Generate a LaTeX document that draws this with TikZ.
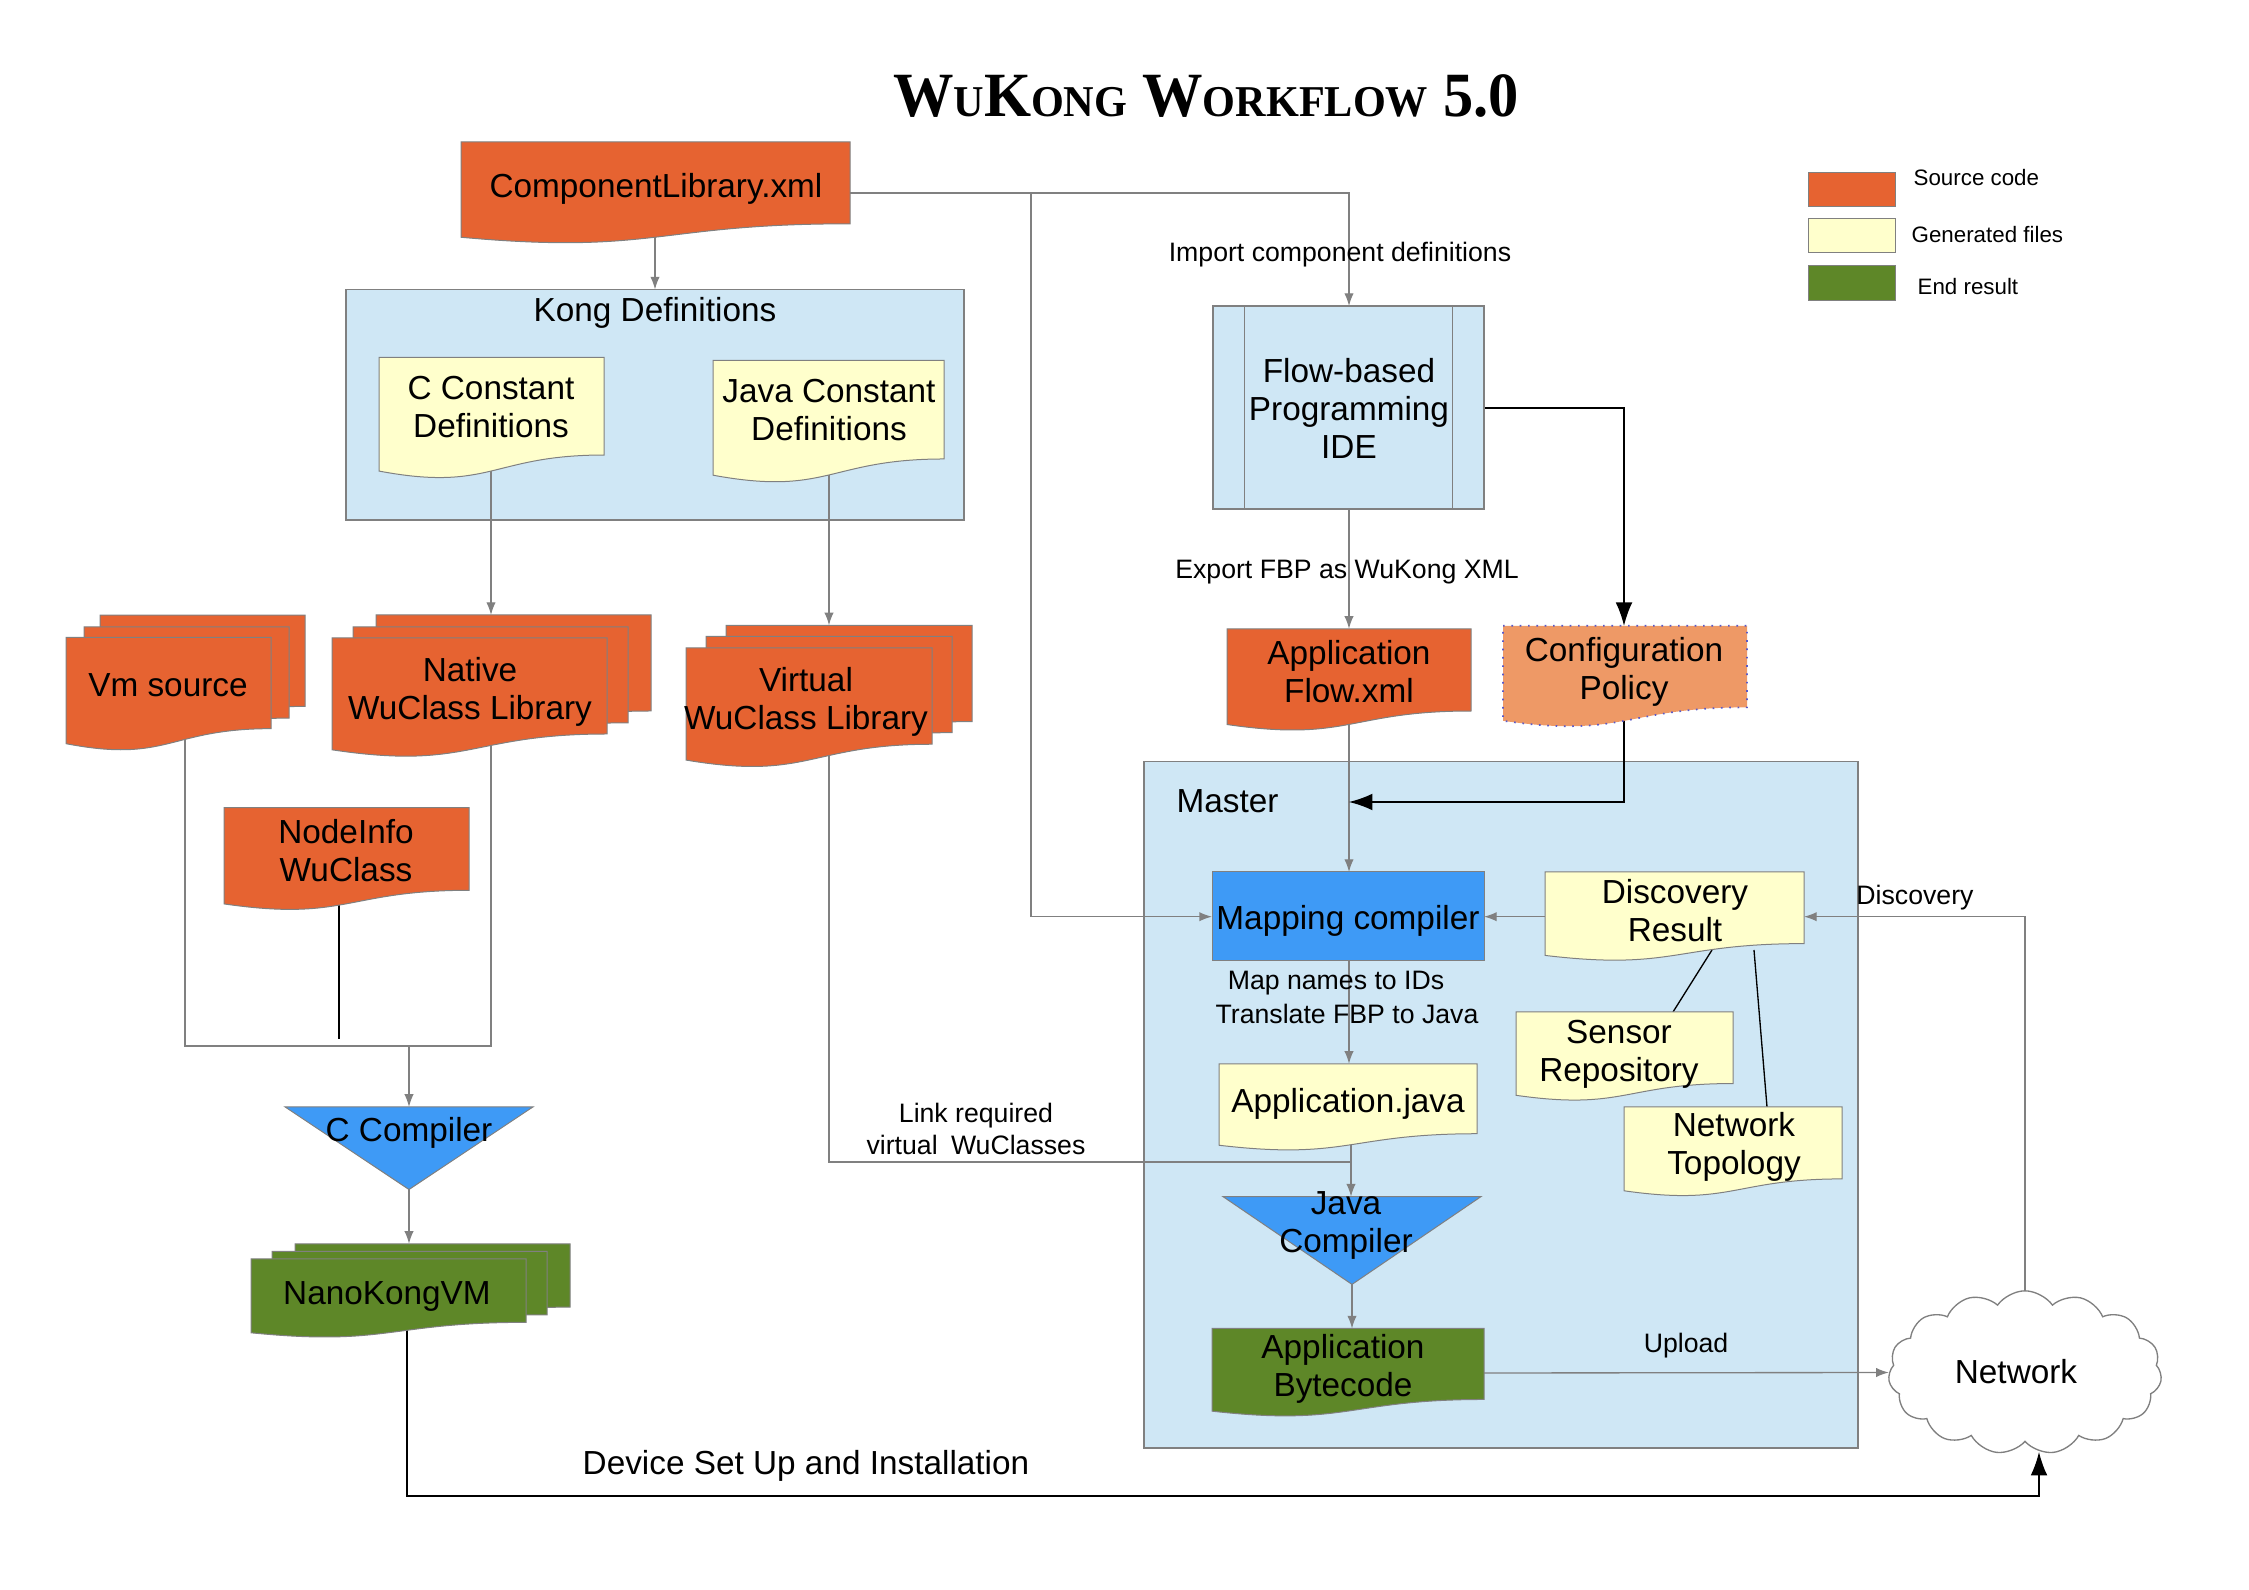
\documentclass[tikz,border=0pt]{standalone}
\usepackage{fontspec}
\setmainfont{Liberation Sans}
\newfontfamily\titlefont{Liberation Serif}
\usetikzlibrary{arrows.meta,shapes.symbols}
\definecolor{srcorange}{RGB}{230,99,49}
\definecolor{cfgorange}{RGB}{238,153,102}
\definecolor{genyellow}{RGB}{255,255,204}
\definecolor{resgreen}{RGB}{94,135,40}
\definecolor{panelblue}{RGB}{207,231,245}
\definecolor{compblue}{RGB}{62,154,246}
\definecolor{linegray}{RGB}{128,128,128}
\definecolor{dotblue}{RGB}{90,90,200}
\tikzset{
  conn/.style={draw=linegray, line width=0.4pt, -{Latex[length=3.8pt,width=2.8pt]}},
  plainline/.style={draw=linegray, line width=0.4pt},
  bconn/.style={draw=black, line width=0.4pt, -{Latex[length=7pt,width=5pt]}},
  bline/.style={draw=black, line width=0.4pt},
  src/.style={fill=srcorange, draw=linegray, line width=0.3pt},
  cfg/.style={fill=cfgorange, draw=dotblue, dotted, line width=0.5pt},
  gen/.style={fill=genyellow, draw=linegray, line width=0.3pt},
  res/.style={fill=resgreen, draw=linegray, line width=0.3pt},
  panel/.style={fill=panelblue, draw=linegray, line width=0.4pt},
  comp/.style={fill=compblue, draw=linegray, line width=0.3pt},
  lbl/.style={font=\fontsize{10}{11.4}\selectfont, align=center, inner sep=0pt},
  slbl/.style={font=\fontsize{8}{9.4}\selectfont, align=center, inner sep=0pt},
  leglbl/.style={font=\fontsize{6.7}{8}\selectfont, anchor=west, inner sep=0pt},
}
% style, x1, y1, x2, h
\newcommand\docshape[5]{%
  \path[#1] (#2,#3) -- (#4,#3) -- (#4,{#3+0.802*#5})
    .. controls ({(#2+#4)/2},{#3+0.802*#5}) and ({(#2+#4)/2},{#3+1.1075*#5}) ..
    (#2,{#3+0.934*#5}) -- cycle;}
% style, x1, y1, x2, h, dx1, dy1, dx2, dy2
\newcommand\docstack[9]{%
  \docshape{#1}{#2+#8}{#3-#9}{#4+#8}{#5}%
  \docshape{#1}{#2+#6}{#3-#7}{#4+#6}{#5}%
  \docshape{#1}{#2}{#3}{#4}{#5}}
\begin{document}
\begin{tikzpicture}[x=0.3pt,y=-0.3pt]
\useasboundingbox[fill=white] (0,0) rectangle (2249,1590);

% ---------- title ----------
\node[anchor=base, inner sep=0pt] (title) at (1206,116.7)
  {\scalebox{0.96}[1]{\titlefont\bfseries\fontsize{18.9}{20}\selectfont
   W{\fontsize{13.2}{14}\selectfont U}K{\fontsize{13.2}{14}\selectfont ONG}
   W{\fontsize{13.2}{14}\selectfont ORKFLOW} 5.0}};

% ---------- legend ----------
\path[src] (1808,172.4) rectangle (1895,206.4);
\path[gen] (1808,219) rectangle (1895,253);
\path[res] (1808,266) rectangle (1895,300.7);
\node[leglbl] (legsrc) at (1913,177.5) {Source code};
\node[leglbl] (leggen) at (1911,234.8) {Generated files};
\node[leglbl] (legres) at (1917,286.5) {End result};

% ---------- panels ----------
\path[panel] (346,289.5) rectangle (964,520);
\path[panel] (1144,761.7) rectangle (1858,1448);

% ---------- coordinates ----------
\coordinate (cl-s) at (655,230);
\coordinate (kong-n) at (655,289.5);
\coordinate (cl-e) at (850,193);
\coordinate (split) at (1031,193);
\coordinate (ide-n) at (1349,306);
\coordinate (map-w) at (1212,916.7);
\coordinate (cc-s) at (491,460);
\coordinate (nat-n) at (491,615);
\coordinate (jc-s) at (829,460);
\coordinate (vir-n) at (829,625.3);
\coordinate (vm-s) at (185,720);
\coordinate (nat-s) at (491,720);
\coordinate (brk) at (409,1046);
\coordinate (ccomp-n) at (409,1106.9);
\coordinate (ni-s) at (339,905);
\coordinate (ni-e) at (339,1039.4);
\coordinate (ccomp-s) at (409,1189.5);
\coordinate (nano-n) at (409,1243.8);
\coordinate (nano-s) at (407,1310);
\coordinate (net-s) at (2039,1452);
\coordinate (vir-s) at (829,740);
\coordinate (aj-s) at (1351,1120);
\coordinate (jcomp-n) at (1351,1196.6);
\coordinate (ide-s) at (1349,509);
\coordinate (af-n) at (1349,628.8);
\coordinate (ide-e) at (1484,408);
\coordinate (cp-n) at (1624,625.8);
\coordinate (af-s) at (1349,690);
\coordinate (map-n) at (1349,872);
\coordinate (cp-s) at (1624,690);
\coordinate (cpj) at (1349,802);
\coordinate (dr-w) at (1545,916.7);
\coordinate (map-e) at (1484,916.7);
\coordinate (dr-e) at (1804,916.7);
\coordinate (dr-s1) at (1712,950);
\coordinate (sr-n) at (1673,1012);
\coordinate (dr-s2) at (1754,950);
\coordinate (nt-n) at (1767,1106.9);
\coordinate (map-s) at (1349,961);
\coordinate (aj-n) at (1349,1063.8);
\coordinate (jcomp-s) at (1352,1284.4);
\coordinate (bc-n) at (1352,1328.5);
\coordinate (bc-e) at (1484,1373);

% ---------- cloud ----------
\node[cloud, cloud puffs=15, cloud puff arc=110, aspect=1.68, draw=linegray,
      fill=white, line width=0.4pt, minimum width=82pt, minimum height=49pt,
      inner sep=0pt] (net) at (2025,1372.5) {};
\node[lbl] (netlbl) at (2016,1372) {Network};

% ---------- connectors ----------
\draw[conn] (cl-s) -- (kong-n);
\draw[conn] (cl-e) -- (split) -| (ide-n);
\draw[conn] (split) |- (map-w);
\draw[conn] (cc-s) -- (nat-n);
\draw[conn] (jc-s) -- (vir-n);
\draw[plainline] (vm-s) |- (brk) -| (nat-s);
\draw[conn] (brk) -- (ccomp-n);
\draw[bline] (ni-s) -- (ni-e);
\draw[conn] (ccomp-s) -- (nano-n);
\draw[bconn] (nano-s) |- (1800,1496) -| (net-s);
\draw[plainline] (vir-s) |- (jcomp-n |- 0,1162);
\draw[conn] (aj-s) -- (jcomp-n);
\draw[conn] (ide-s) -- (af-n);
\draw[bconn] (ide-e) -| (cp-n);
\draw[conn] (af-s) -- (map-n);
\draw[bconn] (cp-s) |- (cpj);
\draw[conn] (dr-w) -- (map-e);
\draw[conn] (net.north) |- (dr-e);
\draw[bline] (dr-s1) -- (sr-n);
\draw[bline] (dr-s2) -- (nt-n);
\draw[conn] (map-s) -- (aj-n);
\draw[conn] (jcomp-s) -- (bc-n);
\draw[conn] (bc-e) -- (net.west);

% ---------- shapes ----------
\docshape{src}{461}{142}{850}{102}
\docshape{gen}{379}{357.5}{604}{121.6}
\docshape{gen}{713}{360.5}{944}{122.8}
\docstack{src}{66}{637.4}{271}{113.8}{18}{10.6}{34}{22.3}
\docstack{src}{332}{638}{607}{119.7}{21}{11.2}{44}{23}
\docstack{src}{686}{648}{932}{120}{20}{11.6}{40}{22.7}
\docshape{src}{224}{807.7}{469}{103}
\docstack{res}{251}{1259}{526}{79}{21}{7.6}{44}{15.2}
\path[comp] (285,1106.9) -- (533,1106.9) -- (409,1189.5) -- cycle;

\path[panel] (1213,306) rectangle (1484,509);
\draw[linegray, line width=0.4pt] (1244.5,306) -- (1244.5,509) (1452.5,306) -- (1452.5,509);
\docshape{src}{1227}{628.8}{1471}{102.5}
\docshape{cfg}{1503}{625.8}{1747}{101.7}
\path[comp] (1212,872) rectangle (1484,961);
\docshape{gen}{1545}{872}{1804}{89.3}
\docshape{gen}{1516}{1012}{1733}{89.2}
\docshape{gen}{1624}{1106.9}{1842}{89.8}
\docshape{gen}{1219}{1063.8}{1477}{87.2}
\path[comp] (1223,1196.6) -- (1481,1196.6) -- (1352,1284.4) -- cycle;
\docshape{res}{1212}{1328.5}{1484}{88.5}

% ---------- texts ----------
\node[lbl] (cl) at (656,189) {ComponentLibrary.xml};
\node[lbl] (kong) at (655,313) {Kong Definitions};
\node[lbl] (cconst) at (491,407) {C Constant\\Definitions};
\node[lbl] (jconst) at (829,410) {Java Constant\\Definitions};
\node[lbl] (vm) at (168,685.5) {Vm source};
\node[lbl] (native) at (470,692) {Native\\WuClass Library};
\node[lbl] (virtual) at (806,702) {Virtual\\WuClass Library};
\node[lbl] (nodeinfo) at (346,851) {NodeInfo\\WuClass};
\node[lbl] (ccomp) at (409,1133) {C Compiler};
\node[lbl] (nano) at (387,1296) {NanoKongVM};
\node[slbl] (link) at (976,1129) {Link required\\virtual\enspace WuClasses};
\node[lbl] (device) at (806,1466) {Device Set Up and Installation};
\node[slbl] (import) at (1340,254.5) {Import component definitions};
\node[lbl] (ide) at (1349,408.5) {Flow-based\\Programming\\IDE};
\node[slbl] (export) at (1347,572) {Export FBP as WuKong XML};
\node[lbl] (appflow) at (1349,672) {Application\\Flow.xml};
\node[lbl] (config) at (1624,672) {Configuration\\Policy};
\node[lbl, anchor=west] (master) at (1176,801) {Master};
\node[lbl] (mapping) at (1348,921) {Mapping compiler};
\node[lbl] (discres) at (1675,910.5) {Discovery\\Result};
\node[slbl] (disclbl) at (1915,898) {Discovery};
\node[lbl] (sensor) at (1619,1054.5) {Sensor\\Repository};
\node[lbl] (topo) at (1734,1147) {Network\\Topology};
\node[slbl] (mapnames) at (1336,983) {Map names to IDs};
\node[slbl] (translate) at (1347,1014) {Translate FBP to Java};
\node[lbl] (appjava) at (1348,1103.5) {Application.java};
\node[lbl] (jcomp) at (1346,1225) {Java\\Compiler};
\node[lbl] (bytecode) at (1343,1369) {Application\\Bytecode};
\node[slbl] (upload) at (1686,1346) {Upload};
\end{tikzpicture}
\end{document}
